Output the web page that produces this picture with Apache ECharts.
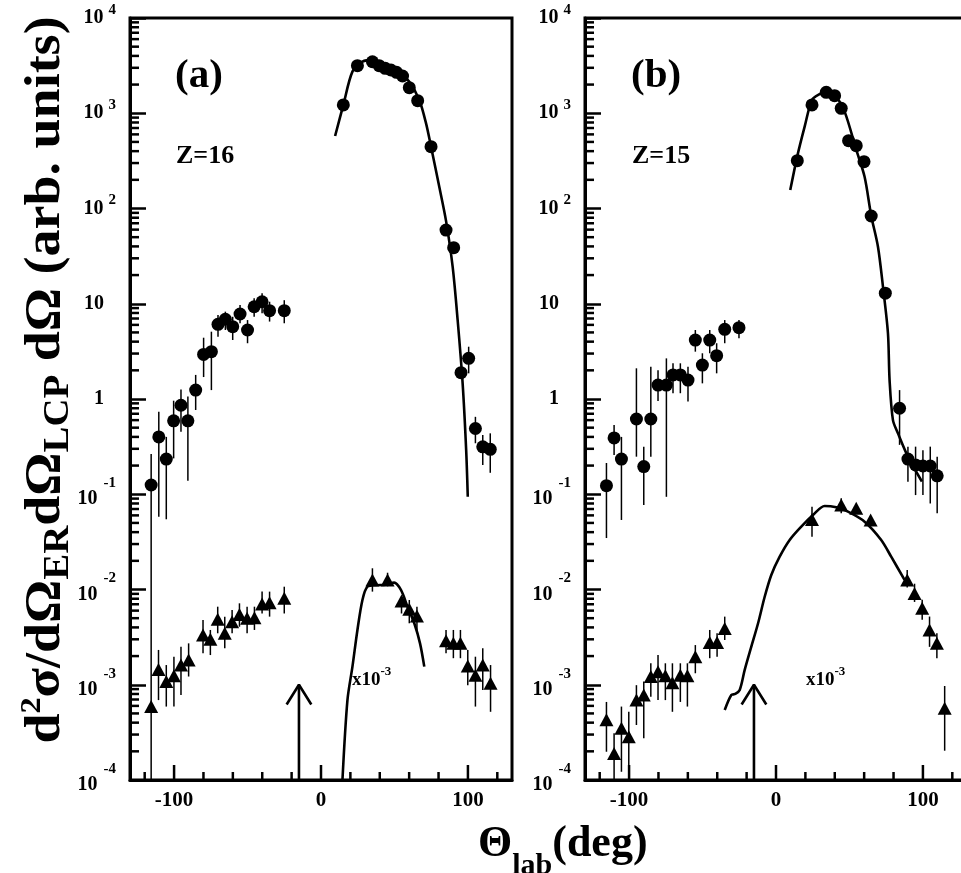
<!DOCTYPE html>
<html>
<head>
<meta charset="utf-8">
<title>Angular distributions, Z=16 and Z=15</title>
<script src="https://cdn.jsdelivr.net/npm/echarts@6.0.0/dist/echarts.min.js"></script>
<style>
  html, body { margin: 0; padding: 0; background: #fff; }
  #chart { width: 961px; height: 873px; }
</style>
</head>
<body>
<div id="chart"></div>
<script>
// values (theta_lab in deg, cross section in arb. units)

// panel (a), Z=16 : circles
const aCircX = [-115.6, -110.4, -105.3, -100.3, -95.3, -90.6, -85.3, -79.9, -74.6, -70.1, -65.1, -60.1, -55.1, -50.0, -45.5, -40.1, -35.0, -25.0,
  15.2, 24.8, 35.0, 39.6, 43.7, 47.6, 51.4, 55.5, 60.1, 65.8, 74.9, 85.1, 90.3, 95.3, 100.5, 105.1, 110.1, 115.2];
const aCircY = [0.125, 0.40, 0.234, 0.59, 0.86, 0.59, 1.24, 2.94, 3.14, 6.08, 6.87, 5.75, 7.8, 5.3, 9.3, 10.5, 8.46, 8.46,
  1222, 3156, 3475, 3156, 2965, 2845, 2690, 2461, 1855, 1355, 446, 59.4, 38.8, 1.89, 2.67, 0.49, 0.315, 0.296];
const aCircLo = [1e-4, 0.058, 0.0546, 0.238, 0.454, 0.139, 0.767, 1.7, 1.24, 4.5, 5.3, 4.16, 6.24, 3.85, 7.3, 7.95, 6.5, 6.24,
  null, null, null, null, null, null, null, null, null, null, null, null, null, null, 1.86, 0.343, 0.203, 0.168];
const aCircHi = [0.265, 0.736, 0.40, 0.96, 1.26, 1.06, 1.79, 4.4, 5.09, 7.6, 8.26, 7.3, 9.7, 6.74, 11.4, 12.9, 10.5, 10.9,
  null, null, null, null, null, null, null, null, null, null, null, null, null, null, 3.54, 0.65, 0.42, 0.436];

// panel (a) : triangles (x10^-3)
const aTriX = [-115.6, -110.6, -105.3, -100.1, -95.3, -90.1, -80.3, -75.3, -70.3, -65.5, -60.5, -55.5, -50.3, -45.3, -40.1, -35.0, -25.0,
  35.0, 45.3, 54.8, 60.1, 65.3, 85.1, 90.1, 94.9, 99.9, 105.1, 110.1, 115.4];
const aTriY = [5.9e-4, 1.45e-3, 1.08e-3, 1.24e-3, 1.61e-3, 1.82e-3, 3.33e-3, 3.0e-3, 4.86e-3, 3.47e-3, 4.59e-3, 5.48e-3, 4.98e-3, 5.06e-3, 7.05e-3, 7.28e-3, 8.09e-3,
  0.0126, 0.0126, 7.57e-3, 6.2e-3, 5.27e-3, 2.9e-3, 2.72e-3, 2.72e-3, 1.57e-3, 1.26e-3, 1.61e-3, 1.04e-3];
const aTriLo = [null, 6.9e-4, 5.9e-4, 5.9e-4, 7.8e-4, 1.22e-3, 2.14e-3, 2.05e-3, 3.47e-3, 2.41e-3, 3.47e-3, 4.07e-3, 3.47e-3, 3.76e-3, 5.6e-3, 5.19e-3, 5.6e-3,
  9.5e-3, 0.0108, 5.6e-3, 4.42e-3, 3.47e-3, 2.14e-3, 1.9e-3, 1.9e-3, 9.9e-4, 5.9e-4, 8.8e-4, 5.2e-4];
const aTriHi = [null, 2.32e-3, 1.61e-3, 1.97e-3, 2.5e-3, 2.72e-3, 4.79e-3, 3.76e-3, 6.6e-3, 5.19e-3, 6.1e-3, 7.16e-3, 6.6e-3, 6.6e-3, 9.5e-3, 9.5e-3, 0.0107,
  0.0167, 0.015, 8.4e-3, 7.76e-3, 6.6e-3, 3.76e-3, 3.76e-3, 3.76e-3, 2.32e-3, 1.97e-3, 2.41e-3, 1.61e-3];

// panel (a) : calculated curves
const aFitX = [9.6, 15.2, 21.4, 28.2, 35, 44.1, 53.2, 60.1, 66.9, 71.5, 74.9, 80.5, 85.1, 89.6, 93.0, 96.4, 98.8, 99.9];
const aFitY = [577, 1222, 2735, 3475, 3631, 3214, 2735, 2143, 1377, 783, 446, 169, 74.1, 24.5, 6.75, 1.46, 0.292, 0.094];
const aFitTriX = [14.6, 18.0, 21.4, 24.8, 28.2, 31.6, 37.3, 44.1, 49.8, 54.4, 58.9, 63.5, 67.4, 70.3];
const aFitTriY = [1e-4, 6.9e-4, 1.55e-3, 3.76e-3, 7.76e-3, 0.0107, 0.0111, 0.0112, 0.0118, 9.9e-3, 6.6e-3, 4.42e-3, 2.72e-3, 1.55e-3];

// panel (b), Z=15 : circles
const bCircX = [-115.4, -110.2, -105.2, -95.0, -90.0, -85.2, -80.3, -74.6, -70.1, -65.1, -59.9, -54.9, -50.1, -45.1, -40.4, -34.9, -25.2,
  14.5, 24.5, 34.2, 39.9, 44.4, 49.4, 54.6, 59.9, 64.8, 74.4, 84.1, 89.8, 95.0, 100, 105, 109.7];
const bCircY = [0.123, 0.39, 0.234, 0.617, 0.195, 0.617, 1.40, 1.40, 1.79, 1.79, 1.58, 4.16, 2.27, 4.16, 2.85, 5.39, 5.61,
  318, 1222, 1660, 1530, 1127, 515, 457, 310, 83.4, 12.9, 0.80, 0.234, 0.203, 0.198, 0.198, 0.156];
const bCircLo = [0.0347, 0.258, 0.0537, 0.248, 0.077, 0.248, 0.95, 0.094, 1.15, 1.15, 0.94, 3.14, 1.46, 3.02, 1.86, 3.85, 4.34,
  null, null, null, null, null, null, null, null, null, null, 0.33, 0.135, 0.098, 0.098, 0.080, 0.063];
const bCircHi = [0.213, 0.533, 0.40, 2.1, 0.316, 2.18, 2.0, 2.67, 2.37, 2.37, 2.18, 5.3, 3.02, 5.3, 3.85, 6.74, 6.74,
  null, null, null, null, null, null, null, null, null, null, 1.24, 0.316, 0.316, 0.29, 0.316, 0.248];

// panel (b) : triangles (x10^-3)
const bTriX = [-115.4, -110.2, -105.2, -100.2, -95.0, -90.0, -85.2, -80.3, -75.3, -70.5, -65.1, -60.3, -54.9, -45.1, -40.1, -34.9,
  24.5, 44.4, 54.6, 64.4, 89.3, 94.3, 99.5, 104.5, 109.5, 114.8];
const bTriY = [4.3e-4, 1.9e-4, 3.5e-4, 2.85e-4, 6.9e-4, 7.8e-4, 1.22e-3, 1.37e-3, 1.24e-3, 1.05e-3, 1.26e-3, 1.24e-3, 1.97e-3, 2.77e-3, 2.77e-3, 3.9e-3,
  0.0543, 0.077, 0.0711, 0.0537, 0.0126, 9.1e-3, 6.34e-3, 3.76e-3, 2.72e-3, 5.66e-4];
const bTriLo = [1.98e-4, 1e-4, 1.22e-4, 1e-4, 3.78e-4, 2.74e-4, 7.5e-4, 6.9e-4, 6.9e-4, 5.2e-4, 6.6e-4, 5.9e-4, 1.32e-3, 1.9e-3, 1.97e-3, 2.95e-3,
  0.0358, 0.063, null, null, 0.0105, 7.4e-3, 4.8e-3, 2.5e-3, 1.9e-3, 2.03e-4];
const bTriHi = [6.6e-4, 3.1e-4, 5.9e-4, 5.2e-4, 9.9e-4, 1.08e-3, 1.68e-3, 2.05e-3, 1.68e-3, 1.68e-3, 1.68e-3, 1.68e-3, 2.61e-3, 3.76e-3, 3.47e-3, 5.19e-3,
  0.074, 0.0906, null, null, 0.016, 0.0115, 7.8e-3, 5.2e-3, 3.47e-3, 9.7e-4];

// panel (b) : calculated curves
const bFitX = [9.7, 14.5, 19.5, 24.5, 29.7, 35.4, 39.9, 46.7, 54.6, 60.3, 64.8, 69.4, 72.8, 76.2, 77.3, 79.6, 83, 89.8, 99.3];
const bFitY = [156, 355, 723, 1380, 1585, 1726, 1585, 1040, 414, 215, 84.1, 39.7, 15.1, 4.9, 1.58, 0.60, 0.436, 0.248, 0.136];
const bFitTriX = [-34.9, -30.4, -27.7, -24.7, -21.3, -16.8, -12.2, -7.7, -3.2, 2.5, 9.3, 17.2, 25.2, 33.1, 41, 49, 60.3, 71.6, 78.4, 87.5];
const bFitTriY = [5.43e-4, 7.8e-4, 8.0e-4, 8.81e-4, 1.43e-3, 2.51e-3, 4.42e-3, 8.39e-3, 0.0142, 0.0221, 0.0331, 0.0457, 0.0605, 0.0753, 0.0729, 0.0656, 0.0515, 0.0331, 0.0221, 0.0126];

// arrow marking the grazing angle (same in both panels)
const arrowShaft = [[-15, 1e-4], [-15, 1e-3]];
const arrowHead = [[-23.4, 6.2e-4], [-15, 1e-3], [-6.6, 6.2e-4]];

// axes
const xMin = -130, xMax = 130;
const yMin = 1e-4, yMax = 1e4;
const xTickLabels = [-100, 0, 100];
const xTicks = [-120, -100, -80, -60, -40, -20, 0, 20, 40, 60, 80, 100, 120];
const yMinorTicks = [];
for (let e = -4; e < 4; e++) {
  for (let m = 2; m <= 9; m++) yMinorTicks.push(m * Math.pow(10, e));
}

const FONT = '"Liberation Serif", "DejaVu Serif", serif';

const pairs = (xs, ys) => xs.map((x, i) => [x, ys[i]]);
const errRows = (xs, lo, hi) => xs.map((x, i) => (lo[i] == null ? null : [x, lo[i], hi[i]])).filter(Boolean);

const yLabel = v => {
  const e = Math.round(Math.log10(v));
  if (e === 0) return '{n|1}';
  if (e === 1) return '{n|10}';
  if (e > 0) return '{b|10}{s|' + e + '}';
  return '{bn|10}{sn|' + e + '}';
};

const yRich = {
  n: { fontSize: 20, fontWeight: 'bold', fontFamily: FONT, color: '#000', padding: [0, 12, 0, 0] },
  b: { fontSize: 20, fontWeight: 'bold', fontFamily: FONT, color: '#000' },
  s: { fontSize: 15, fontWeight: 'bold', fontFamily: FONT, color: '#000', padding: [0, 0, 16, 5] },
  bn: { fontSize: 20, fontWeight: 'bold', fontFamily: FONT, color: '#000', padding: [10, 0, 0, 0] },
  sn: { fontSize: 15, fontWeight: 'bold', fontFamily: FONT, color: '#000', padding: [0, 0, 22, 6] }
};

const panels = [
  { left: 130, circ: [aCircX, aCircY, aCircLo, aCircHi], tri: [aTriX, aTriY, aTriLo, aTriHi],
    fit: [aFitX, aFitY], fitTri: [aFitTriX, aFitTriY] },
  { left: 585, circ: [bCircX, bCircY, bCircLo, bCircHi], tri: [bTriX, bTriY, bTriLo, bTriHi],
    fit: [bFitX, bFitY], fitTri: [bFitTriX, bFitTriY] }
];

const grids = [], xAxes = [], yAxes = [], series = [];

panels.forEach((p, g) => {
  grids.push({
    left: p.left, top: 18, width: 382, height: 762,
    show: true, borderColor: '#000', borderWidth: 3, backgroundColor: 'transparent',
    containLabel: false, outerBoundsMode: 'none'
  });
  xAxes.push({
    gridIndex: g, type: 'value', min: xMin, max: xMax, interval: 10,
    axisLine: { show: true, onZero: false, lineStyle: { color: '#000', width: 3 } },
    axisTick: { show: false },
    splitLine: { show: false },
    axisLabel: {
      margin: 10, color: '#000', fontSize: 21, fontWeight: 'bold', fontFamily: FONT,
      formatter: v => (xTickLabels.indexOf(v) >= 0 ? String(v) : '')
    }
  });
  yAxes.push({
    gridIndex: g, type: 'log', logBase: 10, min: yMin, max: yMax,
    axisLine: { show: true, onZero: false, lineStyle: { color: '#000', width: 3 } },
    axisTick: { show: true, inside: true, length: 16, lineStyle: { color: '#000', width: 2.5 } },
    splitLine: { show: false },
    axisLabel: { margin: 14, formatter: yLabel, rich: yRich }
  });

  const common = { xAxisIndex: g, yAxisIndex: g, silent: true, animation: false };

  // error bars
  [p.circ, p.tri].forEach(set => {
    series.push(Object.assign({
      type: 'custom', z: 2,
      data: errRows(set[0], set[2], set[3]),
      encode: { x: 0, y: [1, 2] },
      renderItem: (params, api) => {
        const a = api.coord([api.value(0), api.value(1)]);
        const b = api.coord([api.value(0), api.value(2)]);
        return { type: 'line', shape: { x1: a[0], y1: a[1], x2: b[0], y2: b[1] },
          style: { stroke: '#000', lineWidth: 1.5 } };
      }
    }, common));
  });

  // calculated curves
  [p.fit, p.fitTri].forEach(f => {
    series.push(Object.assign({
      type: 'line', z: 3, data: pairs(f[0], f[1]), smooth: 0.3,
      showSymbol: false, symbol: 'none',
      lineStyle: { color: '#000', width: 2.6 }
    }, common));
  });

  // data points
  series.push(Object.assign({
    type: 'scatter', z: 4, symbol: 'circle', symbolSize: 13,
    itemStyle: { color: '#000', opacity: 1 }, data: pairs(p.circ[0], p.circ[1])
  }, common));
  series.push(Object.assign({
    type: 'scatter', z: 4, symbol: 'triangle', symbolSize: [14, 13],
    itemStyle: { color: '#000', opacity: 1 }, data: pairs(p.tri[0], p.tri[1])
  }, common));

  // arrow
  series.push(Object.assign({
    type: 'line', z: 3, data: arrowShaft, symbol: 'none', lineStyle: { color: '#000', width: 2.6 }
  }, common));
  series.push(Object.assign({
    type: 'line', z: 3, data: arrowHead, symbol: 'none', lineStyle: { color: '#000', width: 2.6 }
  }, common));

  // x ticks (every 20 deg, longer at the labelled ones)
  series.push(Object.assign({
    type: 'custom', z: 5, data: xTicks.map(v => [v, yMin]), clip: false,
    renderItem: (params, api) => {
      const v = api.value(0);
      const pt = api.coord([v, yMin]);
      const len = xTickLabels.indexOf(v) >= 0 ? 15 : 8;
      return { type: 'line', shape: { x1: pt[0], y1: pt[1], x2: pt[0], y2: pt[1] - len },
        style: { stroke: '#000', lineWidth: 2.5 } };
    }
  }, common));
  // y minor ticks 2..9 in each decade
  series.push(Object.assign({
    type: 'custom', z: 5, data: yMinorTicks.map(v => [xMin, v]), clip: false,
    renderItem: (params, api) => {
      const pt = api.coord([xMin, api.value(1)]);
      return { type: 'line', shape: { x1: pt[0], y1: pt[1], x2: pt[0] + 9, y2: pt[1] },
        style: { stroke: '#000', lineWidth: 2.5 } };
    }
  }, common));
});

const txt = (x, y, text, size) => ({
  type: 'text', x: x, y: y, silent: true,
  style: { text: text, fill: '#000', fontSize: size, fontWeight: 'bold', fontFamily: FONT,
    align: 'left', verticalAlign: 'middle' }
});

const scaleRich = {
  m: { fontSize: 19, fontWeight: 'bold', fontFamily: FONT, fill: '#000' },
  p: { fontSize: 13, fontWeight: 'bold', fontFamily: FONT, fill: '#000', padding: [0, 0, 16, 0] }
};

const graphics = [
  txt(175, 76, '(a)', 41),
  txt(176, 156, 'Z=16', 26),
  txt(631, 76, '(b)', 41),
  txt(632, 156, 'Z=15', 26),
  { type: 'text', x: 352, y: 680, silent: true,
    style: { text: '{m|x10}{p|-3}', rich: scaleRich, align: 'left', verticalAlign: 'middle' } },
  { type: 'text', x: 806, y: 680, silent: true,
    style: { text: '{m|x10}{p|-3}', rich: scaleRich, align: 'left', verticalAlign: 'middle' } },
  // y axis title
  { type: 'text', x: 46, y: 380, rotation: Math.PI / 2, scaleX: 1.08, silent: true,
    style: {
      text: '{m|d}{p|2}{m|σ/dΩ}{u|ER}{m|dΩ}{u|LCP}{m| dΩ (arb. units)}',
      align: 'center', verticalAlign: 'middle',
      rich: {
        m: { fontSize: 50, fontWeight: 'bold', fontFamily: FONT, fill: '#000' },
        p: { fontSize: 30, fontWeight: 'bold', fontFamily: FONT, fill: '#000', padding: [0, 0, 28, 0] },
        u: { fontSize: 36, fontWeight: 'bold', fontFamily: FONT, fill: '#000', padding: [26, 0, 0, 0] }
      }
    } },
  // x axis title
  { type: 'text', x: 478, y: 845, silent: true,
    style: {
      text: '{m|Θ}{u|lab}{m|(deg)}',
      align: 'left', verticalAlign: 'middle',
      rich: {
        m: { fontSize: 44, fontWeight: 'bold', fontFamily: FONT, fill: '#000' },
        u: { fontSize: 30, fontWeight: 'bold', fontFamily: FONT, fill: '#000', padding: [42, 0, 0, 0] }
      }
    } }
];

const chart = echarts.init(document.getElementById('chart'), null, { renderer: 'canvas' });
chart.setOption({
  backgroundColor: '#fff',
  animation: false,
  grid: grids,
  xAxis: xAxes,
  yAxis: yAxes,
  series: series,
  graphic: graphics
});
</script>
</body>
</html>
